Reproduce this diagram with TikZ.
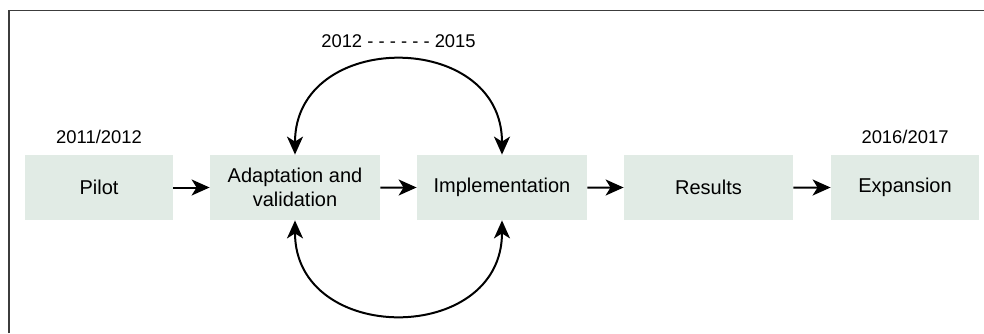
\documentclass[tikz,border=0pt]{standalone}
\usepackage{fontspec}
\setmainfont{Liberation Sans}
\usepackage{tikz}
\usepackage{xcolor}
\usetikzlibrary{positioning,arrows.meta}
\definecolor{boxfill}{RGB}{225,235,229}
\definecolor{framegray}{RGB}{60,60,60}
\begin{document}
\begin{tikzpicture}[grow=right,
            level 1/.style={level distance=98pt},level 2/.style={level distance=103.5pt},
            level 3/.style={level distance=103.25pt},level 4/.style={level distance=98.25pt},
            edge from parent/.style={draw,line width=1pt,-{Stealth[length=9pt,width=8pt,inset=2.5pt]}},
            box/.style={fill=boxfill,minimum height=32.5pt,inner sep=0pt,align=center,font=\fontsize{10}{11.8}\selectfont},
            year/.style={inner sep=0pt,font=\fontsize{9.2}{11}\selectfont},
            looparc/.style={line width=1pt,{Stealth[length=9pt,width=8pt,inset=2.5pt]}-{Stealth[length=9pt,width=8pt,inset=2.5pt]}}]
            \useasboundingbox (0,0) rectangle (492pt,166.5pt);
            \draw[framegray,line width=0.6pt] (4.5pt,0) |- (492pt,161.25pt);
            \node[box,minimum width=74pt] (pilot) at (49.5pt,72.75pt) {Pilot}
                child{node[box,minimum width=85pt] (adapt) {Adaptation and\\validation}
                    child{node[box,minimum width=85pt] (impl) {Implementation}
                        child{node[box,minimum width=84.5pt] (results) {Results}
                            child{node[box,minimum width=74pt] (expansion) {Expansion}}
                        }
                    }
                }
            ;
            \node[year,above=5.5pt of pilot] (pilotyear) {2011/2012};
            \node[year,above=5.5pt of expansion] (expansionyear) {2016/2017};
            \draw[looparc] (adapt.north) to[out=90,in=90,looseness=1.55]
                node[year,midway,above=6pt] (period) {2012 - - - - - - 2015} (impl.north);
            \draw[looparc] (adapt.south) to[out=-90,in=-90,looseness=1.55] (impl.south);
        \end{tikzpicture}
\end{document}
